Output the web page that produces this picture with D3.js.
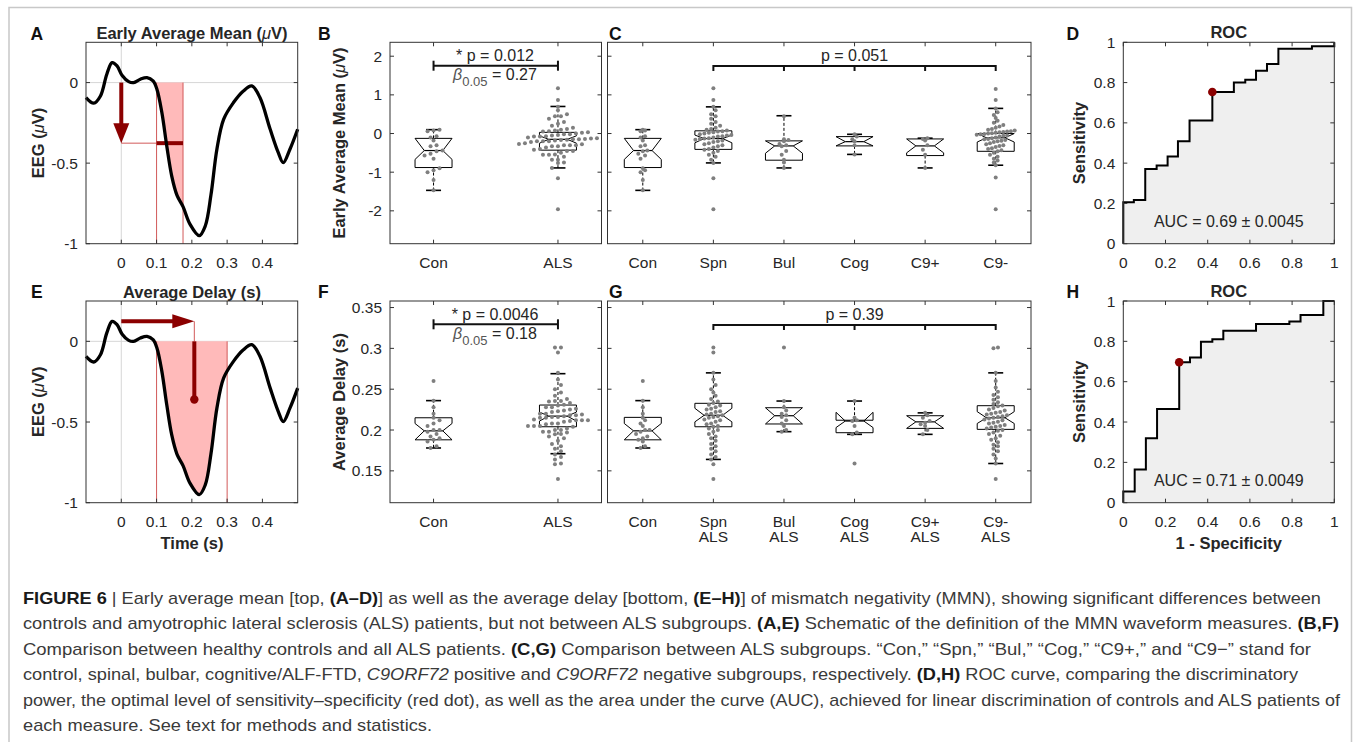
<!DOCTYPE html>
<html><head><meta charset="utf-8">
<script src="https://cdn.jsdelivr.net/npm/d3@7"></script>
<style>
body{margin:0;background:#fff}
svg{display:block}
text{font-family:"Liberation Sans",Arial,Helvetica,sans-serif;fill:#262626}
</style></head>
<body><svg id="fig" width="1355" height="742"></svg>
<script>
// ---------------- DATA ----------------
// Schematic MMN waveform (panels A, E)
const timeS = [-0.1,-0.078,-0.059,-0.041,-0.026,-0.012,0.002,0.021,0.035,0.054,0.073,0.09,0.101,0.115,0.129,0.143,0.158,0.175,0.195,0.221,0.238,0.254,0.271,0.29,0.318,0.346,0.37,0.393,0.422,0.445,0.459,0.478,0.5];
const eegUV = [-0.093,-0.128,-0.083,0.052,0.124,0.104,0.046,0.006,0.0,0.021,0.031,0.01,-0.041,-0.186,-0.395,-0.58,-0.7,-0.77,-0.88,-0.95,-0.89,-0.7,-0.414,-0.228,-0.124,-0.052,-0.021,-0.093,-0.29,-0.435,-0.497,-0.414,-0.29];
const earlyWindow = [0.1, 0.175];
const earlyMeanLevel = -0.376;
const delayWindow = [0.1, 0.3];
const avgDelayTime = 0.207;
const delayArrowLevel = 0.124;
const delayDotLevel = -0.36;

const waveXTicks = [0,0.1,0.2,0.3,0.4];
const waveXLabels = ["0","0.1","0.2","0.3","0.4"];
const waveYTicks = [-1,-0.5,0];
const waveYLabels = ["-1","-0.5","0"];

// Categories
const catsBF = [["Con"],["ALS"]];
const catsC = [["Con"],["Spn"],["Bul"],["Cog"],["C9+"],["C9-"]];
const catsG = [["Con"],["Spn","ALS"],["Bul","ALS"],["Cog","ALS"],["C9+","ALS"],["C9-","ALS"]];

// Early average mean (µV) individual values
const conEarly = [0.1,0.08,0.06,-0.07,-0.1,-0.18,-0.3,-0.33,-0.44,-0.46,-0.52,-0.57,-0.65,-0.9,-0.95,-1.0,-1.2,-1.47];
const spnEarly = [1.17,0.87,0.69,0.6,0.5,0.45,0.38,0.3,0.25,0.2,0.15,0.12,0.1,0.08,0.06,0.05,0.03,0.02,0.0,-0.02,-0.04,-0.05,-0.07,-0.08,-0.1,-0.12,-0.13,-0.14,-0.16,-0.18,-0.2,-0.22,-0.25,-0.28,-0.3,-0.33,-0.36,-0.4,-0.42,-0.45,-0.5,-0.55,-0.6,-0.68,-0.76,-1.16,-1.96];
const bulEarly = [0.45,-0.15,-0.17,-0.2,-0.27,-0.3,-0.33,-0.45,-0.55,-0.68,-0.75,-0.89];
const cogEarly = [-0.02,-0.08,-0.15,-0.2,-0.3,-0.54];
const c9pEarly = [-0.12,-0.14,-0.18,-0.3,-0.42,-0.55,-0.89];
const c9nEarly = [1.15,0.87,0.65,0.55,0.48,0.4,0.33,0.28,0.22,0.18,0.15,0.12,0.1,0.08,0.06,0.05,0.04,0.03,0.02,0.01,0.0,-0.01,-0.02,-0.03,-0.05,-0.06,-0.08,-0.1,-0.12,-0.14,-0.15,-0.17,-0.19,-0.2,-0.22,-0.25,-0.28,-0.3,-0.32,-0.35,-0.38,-0.4,-0.43,-0.46,-0.5,-0.55,-0.6,-0.65,-0.7,-0.75,-0.82,-1.14,-1.96];
const alsEarly = spnEarly.concat(bulEarly, cogEarly);

// Average delay (s) individual values
const conDelay = [0.26,0.236,0.228,0.22,0.215,0.212,0.208,0.205,0.2,0.2,0.198,0.195,0.192,0.19,0.188,0.186,0.18,0.178];
const spnDelay = [0.301,0.295,0.27,0.262,0.255,0.25,0.246,0.242,0.238,0.235,0.233,0.231,0.23,0.228,0.226,0.225,0.223,0.222,0.22,0.219,0.218,0.217,0.216,0.215,0.213,0.212,0.21,0.208,0.207,0.205,0.204,0.202,0.2,0.198,0.195,0.192,0.19,0.187,0.183,0.18,0.177,0.174,0.17,0.167,0.164,0.158,0.14];
const bulDelay = [0.301,0.2355,0.228,0.224,0.22,0.218,0.216,0.212,0.208,0.205,0.2,0.198];
const cogDelay = [0.2355,0.215,0.212,0.211,0.205,0.197,0.1947,0.159];
const c9pDelay = [0.221,0.218,0.215,0.211,0.209,0.207,0.205,0.2,0.1947];
const c9nDelay = [0.301,0.3,0.27,0.26,0.252,0.247,0.243,0.24,0.237,0.234,0.232,0.23,0.229,0.227,0.225,0.224,0.222,0.221,0.22,0.219,0.218,0.217,0.216,0.215,0.214,0.213,0.212,0.21,0.209,0.208,0.206,0.205,0.204,0.203,0.202,0.2,0.199,0.197,0.195,0.193,0.19,0.188,0.185,0.182,0.18,0.177,0.174,0.17,0.165,0.159,0.14];
const alsDelay = spnDelay.concat(bulDelay, cogDelay);

// Box statistics per category: [whiskerLo, q1, notchLo, median, notchHi, q3, whiskerHi]
const boxB = [[-1.47,-0.88,-0.67,-0.44,-0.125,-0.125,0.1],[-0.89,-0.43,-0.25,-0.15,-0.06,0.03,0.7]];
const boxC = [[-1.47,-0.88,-0.67,-0.44,-0.125,-0.125,0.1],[-0.76,-0.41,-0.24,-0.13,-0.04,0.07,0.69],[-0.89,-0.69,-0.51,-0.32,-0.19,-0.19,0.46],[-0.54,-0.32,-0.32,-0.21,-0.08,-0.08,-0.02],[-0.89,-0.57,-0.5,-0.32,-0.14,-0.14,-0.12],[-0.82,-0.46,-0.22,-0.11,0.0,0.0,0.65]];
const boxF = [[0.178,0.188,0.188,0.199,0.208,0.215,0.236],[0.171,0.204,0.211,0.217,0.222,0.2306,0.269]];
const boxG = [[0.178,0.188,0.188,0.199,0.208,0.2155,0.236],[0.164,0.204,0.21,0.218,0.2266,0.2327,0.27],[0.198,0.2074,0.2074,0.2175,0.2273,0.2273,0.2355],[0.1947,0.1967,0.203,0.211,0.2217,0.212,0.2355],[0.1947,0.202,0.202,0.21,0.2175,0.2175,0.221],[0.159,0.2008,0.208,0.215,0.2225,0.2298,0.27]];

const earlyYTicks = [-2,-1,0,1,2];
const earlyYLabels = ["-2","-1","0","1","2"];
const delayYTicks = [0.15,0.2,0.25,0.3,0.35];
const delayYLabels = ["0.15","0.2","0.25","0.3","0.35"];

// Stats annotations
const statB = {p:"* p = 0.012", beta:"0.27"};
const statC = "p = 0.051";
const statF = {p:"* p = 0.0046", beta:"0.18"};
const statG = "p = 0.39";

// ROC curves (corner points, step after)
const rocFprD = [0,0,0.05,0.104,0.158,0.21,0.259,0.314,0.422,0.524,0.578,0.629,0.681,0.735,0.894,1,1];
const rocTprD = [0,0.206,0.217,0.371,0.388,0.433,0.509,0.612,0.753,0.801,0.814,0.859,0.892,0.968,0.98,0.985,1];
const optD = [0.422,0.753];
const aucD = "AUC = 0.69 ± 0.0045";
const rocFprH = [0,0,0.054,0.107,0.16,0.265,0.316,0.368,0.422,0.474,0.629,0.787,0.84,0.948,1];
const rocTprH = [0,0.055,0.165,0.319,0.464,0.696,0.72,0.798,0.81,0.853,0.886,0.898,0.93,1,1];
const optH = [0.265,0.696];
const aucH = "AUC = 0.71 ± 0.0049";
const rocTicks = [0,0.2,0.4,0.6,0.8,1];
const rocLabels = ["0","0.2","0.4","0.6","0.8","1"];

const captionLines = [
 [["FIGURE 6","b"],[" | Early average mean [top, ",""],["(A–D)","b"],["] as well as the average delay [bottom, ",""],["(E–H)","b"],["] of mismatch negativity (MMN), showing significant differences between",""]],
 [["controls and amyotrophic lateral sclerosis (ALS) patients, but not between ALS subgroups. ",""],["(A,E)","b"],[" Schematic of the definition of the MMN waveform measures. ",""],["(B,F)","b"]],
 [["Comparison between healthy controls and all ALS patients. ",""],["(C,G)","b"],[" Comparison between ALS subgroups. “Con,” “Spn,” “Bul,” “Cog,” “C9+,” and “C9−” stand for",""]],
 [["control, spinal, bulbar, cognitive/ALF-FTD, ",""],["C9ORF72","i"],[" positive and ",""],["C9ORF72","i"],[" negative subgroups, respectively. ",""],["(D,H)","b"],[" ROC curve, comparing the discriminatory",""]],
 [["power, the optimal level of sensitivity–specificity (red dot), as well as the area under the curve (AUC), achieved for linear discrimination of controls and ALS patients of",""]],
 [["each measure. See text for methods and statistics.",""]]
];

// ---------------- DRAWING ----------------
const svg = d3.select("#fig");
const AX = "#333";
const DARKRED = "#8b0000";

svg.append("path").attr("d","M9,760 V7.5 H1351.5 V760").attr("fill","none").attr("stroke","#c8c8c8").attr("stroke-width",1.5);

const ROW1 = {y0:42.3, y1:243.7}, ROW2 = {y0:301, y1:502.7};

function addText(g, x, y, s, o={}) {
  const t = g.append("text").attr("x",x).attr("y",y).text(s)
    .attr("font-size", o.size||15.5).attr("text-anchor", o.anchor||"middle");
  if (o.bold) t.attr("font-weight","bold");
  return t;
}
function frame(g, x0, x1, y0, y1) {
  g.append("rect").attr("x",x0).attr("y",y0).attr("width",x1-x0).attr("height",y1-y0)
    .attr("fill","none").attr("stroke",AX).attr("stroke-width",1);
}
function yTicks(g, y, vals, labels, x0, x1) {
  vals.forEach((v,i)=>{
    const py = y(v);
    g.append("line").attr("x1",x0).attr("x2",x0+4).attr("y1",py).attr("y2",py).attr("stroke",AX);
    g.append("line").attr("x1",x1).attr("x2",x1-4).attr("y1",py).attr("y2",py).attr("stroke",AX);
    addText(g, x0-8, py+5.5, labels[i], {anchor:"end"});
  });
}
function xTicks(g, x, vals, labels, y0, y1) {
  vals.forEach((v,i)=>{
    const px = x(v);
    g.append("line").attr("x1",px).attr("x2",px).attr("y1",y1).attr("y2",y1-4).attr("stroke",AX);
    g.append("line").attr("x1",px).attr("x2",px).attr("y1",y0).attr("y2",y0+4).attr("stroke",AX);
    const lab = Array.isArray(labels[i]) ? labels[i] : [labels[i]];
    lab.forEach((l,j)=> addText(g, px, y1+24+j*15.5, l));
  });
}
function ylabel(g, x, y, parts) {
  const t = g.append("text").attr("transform",`translate(${x},${y}) rotate(-90)`)
    .attr("text-anchor","middle").attr("font-size",16.5).attr("font-weight","bold");
  parts.forEach(p=>{ const s=t.append("tspan").text(p[0]); if(p[1]==="i") s.attr("font-style","italic").attr("font-weight","normal"); });
}
function richTitle(g, x, y, parts, size=16.5) {
  const t = g.append("text").attr("x",x).attr("y",y).attr("text-anchor","middle").attr("font-size",size).attr("font-weight","bold");
  parts.forEach(p=>{ const s=t.append("tspan").text(p[0]); if(p[1]==="i") s.attr("font-style","italic").attr("font-weight","normal"); });
}
function letter(g, x, y, s) { addText(g, x, y, s, {anchor:"start", bold:true, size:17.5}).style("fill","#111"); }

// ---- Waveform panels ----
const wavePts = timeS.map((t,i)=>[t, eegUV[i]]);
const waveCurve = d3.curveCatmullRom.alpha(0.5);
function wavePanel(row, id, mode) {
  const x = d3.scaleLinear([-0.1,0.5],[86,297.7]);
  const y = d3.scaleLinear([-1,0.25],[row.y1,row.y0]);
  const g = svg.append("g");
  g.append("line").attr("x1",x(0)).attr("x2",x(0)).attr("y1",row.y0).attr("y2",row.y1).attr("stroke","#d6d6d6");
  g.append("line").attr("x1",x.range()[0]).attr("x2",x.range()[1]).attr("y1",y(0)).attr("y2",y(0)).attr("stroke","#d6d6d6");
  const win = mode==="early" ? earlyWindow : delayWindow;
  svg.append("clipPath").attr("id","clip"+id).append("rect")
    .attr("x",x(win[0])).attr("y",row.y0).attr("width",x(win[1])-x(win[0])).attr("height",row.y1-row.y0);
  const area = d3.area().x(d=>x(d[0])).y0(y(0)).y1(d=>y(d[1])).curve(waveCurve);
  g.append("path").datum(wavePts).attr("d",area).attr("fill","#ffbaba").attr("clip-path",`url(#clip${id})`);
  win.forEach(w=> g.append("line").attr("x1",x(w)).attr("x2",x(w)).attr("y1",y(0)).attr("y2",row.y1).attr("stroke","#d25a5a").attr("stroke-width",1));
  if (mode==="early") {
    g.append("line").attr("x1",x(0)).attr("x2",x(win[1])).attr("y1",y(earlyMeanLevel)).attr("y2",y(earlyMeanLevel)).attr("stroke","#d25a5a").attr("stroke-width",1);
    g.append("line").attr("x1",x(win[0])).attr("x2",x(win[1])).attr("y1",y(earlyMeanLevel)).attr("y2",y(earlyMeanLevel)).attr("stroke",DARKRED).attr("stroke-width",4);
    const tipY = y(earlyMeanLevel), cx = x(0);
    g.append("line").attr("x1",cx).attr("x2",cx).attr("y1",y(0)).attr("y2",tipY-18).attr("stroke",DARKRED).attr("stroke-width",4);
    g.append("polygon").attr("points",`${cx},${tipY} ${cx-8},${tipY-20} ${cx+8},${tipY-20}`).attr("fill",DARKRED);
  } else {
    const ty = y(delayArrowLevel), tipX = x(avgDelayTime);
    g.append("line").attr("x1",tipX).attr("x2",tipX).attr("y1",ty).attr("y2",y(0)).attr("stroke","#d25a5a").attr("stroke-width",1);
    g.append("line").attr("x1",x(0)).attr("x2",tipX-19).attr("y1",ty).attr("y2",ty).attr("stroke",DARKRED).attr("stroke-width",4);
    g.append("polygon").attr("points",`${tipX},${ty} ${tipX-22},${ty-7} ${tipX-22},${ty+7}`).attr("fill",DARKRED);
    g.append("line").attr("x1",tipX).attr("x2",tipX).attr("y1",y(0)).attr("y2",y(delayDotLevel)).attr("stroke",DARKRED).attr("stroke-width",4);
    g.append("circle").attr("cx",tipX).attr("cy",y(delayDotLevel)).attr("r",4.2).attr("fill",DARKRED);
  }
  g.append("path").datum(wavePts).attr("d",d3.line().x(d=>x(d[0])).y(d=>y(d[1])).curve(waveCurve))
    .attr("fill","none").attr("stroke","#000").attr("stroke-width",3.3).attr("stroke-linejoin","round");
  frame(g, 86, 297.7, row.y0, row.y1);
  yTicks(g, y, waveYTicks, waveYLabels, 86, 297.7);
  xTicks(g, x, waveXTicks, waveXLabels, row.y0, row.y1);
  ylabel(g, 44, (row.y0+row.y1)/2, [["EEG ("],["μ","i"],["V)"]]);
  return g;
}
const gA = wavePanel(ROW1, "A", "early");
richTitle(gA, 192, 38.5, [["Early Average Mean ("],["μ","i"],["V)"]]);
letter(gA, 30.5, 39.5, "A");
const gE = wavePanel(ROW2, "E", "delay");
richTitle(gE, 192, 298, [["Average Delay (s)"]]);
addText(gE, 192, 549, "Time (s)", {bold:true, size:16.5});
letter(gE, 31, 297.5, "E");

// ---- Box panels ----
function spread(values, y, maxHalf, gap, binPx) {
  const pts = values.map(v=>({v, py:y(v)}));
  const bins = d3.group(pts, p=>Math.floor(p.py/binPx));
  const maxN = d3.max(Array.from(bins.values()), b=>b.length);
  const dx = maxN>1 ? Math.min(gap, 2*maxHalf/(maxN-1)) : gap;
  bins.forEach(b=>{ b.sort((a,c)=>a.v-c.v); b.forEach((p,i)=> p.dx=(i-(b.length-1)/2)*dx); });
  return pts;
}
function boxPanel(o) {
  const g = svg.append("g");
  const x = d3.scaleLinear(o.xDomain,[o.x0,o.x1]);
  const y = d3.scaleLinear(o.yDomain,[o.row.y1,o.row.y0]);
  const w = 18.5, cap = 7.5;
  o.stats.forEach((s,i)=>{
    const [wLo,q1,nLo,med,nHi,q3,wHi] = s; const cx = x(i+1);
    g.append("line").attr("x1",cx).attr("x2",cx).attr("y1",y(q3)).attr("y2",y(wHi)).attr("stroke","#000").attr("stroke-dasharray","3,2");
    g.append("line").attr("x1",cx).attr("x2",cx).attr("y1",y(q1)).attr("y2",y(wLo)).attr("stroke","#000").attr("stroke-dasharray","3,2");
    [wHi,wLo].forEach(v=> g.append("line").attr("x1",cx-cap).attr("x2",cx+cap).attr("y1",y(v)).attr("y2",y(v)).attr("stroke","#000").attr("stroke-width",1.6));
    const pts = [[cx-w,q1],[cx-w,nLo],[cx-w/2,med],[cx-w,nHi],[cx-w,q3],[cx+w,q3],[cx+w,nHi],[cx+w/2,med],[cx+w,nLo],[cx+w,q1]];
    g.append("polygon").attr("points",pts.map(p=>`${p[0]},${y(p[1])}`).join(" ")).attr("fill","none").attr("stroke","#000").attr("stroke-width",1);
    g.append("line").attr("x1",cx-w/2).attr("x2",cx+w/2).attr("y1",y(med)).attr("y2",y(med)).attr("stroke","#000").attr("stroke-width",1.2);
  });
  o.groups.forEach((vals,i)=>{
    const cx = x(i+1);
    spread(vals, y, o.half, o.gap, o.bin).forEach(p=>{
      g.append("circle").attr("cx",cx+p.dx).attr("cy",p.py).attr("r",2).attr("fill","#7f7f7f");
    });
  });
  frame(g, o.x0, o.x1, o.row.y0, o.row.y1);
  yTicks(g, y, o.yTicks, o.showYLabels ? o.yLabels : o.yTicks.map(()=>""), o.x0, o.x1);
  xTicks(g, x, d3.range(1,o.cats.length+1), o.cats, o.row.y0, o.row.y1);
  return {g, x, y};
}
function pairBracket(g, x1, x2, yb, pText, beta, cx) {
  g.append("line").attr("x1",x1).attr("x2",x2).attr("y1",yb).attr("y2",yb).attr("stroke","#111").attr("stroke-width",2);
  [x1,x2].forEach(xx=> g.append("line").attr("x1",xx).attr("x2",xx).attr("y1",yb-5).attr("y2",yb+5).attr("stroke","#111").attr("stroke-width",2));
  addText(g, cx, yb-4.5, pText, {size:16});
  const t = g.append("text").attr("x",cx).attr("y",yb+14.5).attr("text-anchor","middle").attr("font-size",16);
  t.append("tspan").text("β").attr("font-style","italic").style("fill","#555");
  t.append("tspan").text("0.05").attr("font-size",13).attr("dy",6).style("fill","#555");
  t.append("tspan").text(" = "+beta).attr("dy",-6);
}
function groupBracket(g, xs, yb, pText) {
  g.append("line").attr("x1",xs[0]).attr("x2",xs[xs.length-1]).attr("y1",yb).attr("y2",yb).attr("stroke","#111").attr("stroke-width",2);
  xs.forEach(xx=> g.append("line").attr("x1",xx).attr("x2",xx).attr("y1",yb-1).attr("y2",yb+5).attr("stroke","#111").attr("stroke-width",2));
  addText(g, (xs[0]+xs[xs.length-1])/2, yb-5, pText, {size:16});
}

const earlyDom = [-2.85, 2.36], delayDom = [0.111, 0.358];
const pB = boxPanel({x0:390, x1:601.5, row:ROW1, xDomain:[0.65,2.35], yDomain:earlyDom, stats:boxB, groups:[conEarly, alsEarly], cats:catsBF, yTicks:earlyYTicks, yLabels:earlyYLabels, showYLabels:true, half:44, gap:6, bin:6});
pairBracket(pB.g, pB.x(1), pB.x(2), 65.7, statB.p, statB.beta, 495);
ylabel(pB.g, 345, 143, [["Early Average Mean ("],["μ","i"],["V)"]]);
letter(pB.g, 318, 39.5, "B");

const pC = boxPanel({x0:607.5, x1:1031, row:ROW1, xDomain:[0.5,6.5], yDomain:earlyDom, stats:boxC, groups:[conEarly, spnEarly, bulEarly, cogEarly, c9pEarly, c9nEarly], cats:catsC, yTicks:earlyYTicks, yLabels:earlyYLabels, showYLabels:false, half:19, gap:4.5, bin:5});
groupBracket(pC.g, [2,3,4,5,6].map(pC.x), 66, statC);
letter(pC.g, 609, 39.5, "C");

const pF = boxPanel({x0:390, x1:601.5, row:ROW2, xDomain:[0.65,2.35], yDomain:delayDom, stats:boxF, groups:[conDelay, alsDelay], cats:catsBF, yTicks:delayYTicks, yLabels:delayYLabels, showYLabels:true, half:42, gap:6, bin:6});
pairBracket(pF.g, pF.x(1), pF.x(2), 324.3, statF.p, statF.beta, 495);
ylabel(pF.g, 345, 402, [["Average Delay (s)"]]);
letter(pF.g, 318, 297.5, "F");

const pG = boxPanel({x0:607.5, x1:1031, row:ROW2, xDomain:[0.5,6.5], yDomain:delayDom, stats:boxG, groups:[conDelay, spnDelay, bulDelay, cogDelay, c9pDelay, c9nDelay], cats:catsG, yTicks:delayYTicks, yLabels:delayYLabels, showYLabels:false, half:19, gap:4.5, bin:5});
groupBracket(pG.g, [2,3,4,5,6].map(pG.x), 325, statG);
letter(pG.g, 609, 297.5, "G");

// ---- ROC panels ----
function rocPanel(row, fpr, tpr, opt, auc) {
  const g = svg.append("g");
  const x = d3.scaleLinear([0,1],[1123.3,1334.3]);
  const y = d3.scaleLinear([0,1],[row.y1,row.y0]);
  const pts = fpr.map((f,i)=>[f,tpr[i]]);
  g.append("path").datum(pts).attr("d", d3.area().x(d=>x(d[0])).y0(y(0)).y1(d=>y(d[1])).curve(d3.curveStepAfter)).attr("fill","#efefef");
  g.append("path").datum(pts).attr("d", d3.line().x(d=>x(d[0])).y(d=>y(d[1])).curve(d3.curveStepAfter))
    .attr("fill","none").attr("stroke","#000").attr("stroke-width",2);
  g.append("circle").attr("cx",x(opt[0])).attr("cy",y(opt[1])).attr("r",4.3).attr("fill",DARKRED);
  addText(g, x(0.5), y(0.083), auc, {size:16});
  frame(g, 1123.3, 1334.3, row.y0, row.y1);
  yTicks(g, y, rocTicks, rocLabels, 1123.3, 1334.3);
  xTicks(g, x, rocTicks, rocLabels, row.y0, row.y1);
  ylabel(g, 1085, (row.y0+row.y1)/2, [["Sensitivity"]]);
  addText(g, x(0.5), row.y0-4, "ROC", {bold:true, size:16.5});
  return {g, x};
}
const rD = rocPanel(ROW1, rocFprD, rocTprD, optD, aucD);
letter(rD.g, 1066.5, 39.5, "D");
const rH = rocPanel(ROW2, rocFprH, rocTprH, optH, aucH);
letter(rH.g, 1066.5, 297.5, "H");
addText(rH.g, rH.x(0.5), 549, "1 - Specificity", {bold:true, size:16.5});

// ---- Caption ----
const capEnds = [1321,1339,1311,1298,1340];
const capG = svg.append("g");
const capNodes = captionLines.map((line,i)=>{
  const t = capG.append("text").attr("x",23).attr("y",604+i*25.4).attr("font-size",17)
    .attr("text-anchor","start")
    .style("font-family",'"Liberation Sans Narrow","Liberation Sans",Arial,sans-serif').style("fill","#3a3a3a");
  line.forEach(seg=>{
    const s = t.append("tspan").text(seg[0]);
    if (seg[1]==="b") s.attr("font-weight","bold").style("fill","#1a1a1a");
    if (seg[1]==="i") s.attr("font-style","italic");
  });
  return t;
});
const ratios = capEnds.map((e,i)=> (e-23)/capNodes[i].node().getComputedTextLength());
const meanRatio = d3.mean(ratios);
capNodes.forEach((t,i)=>{
  const target = i < capEnds.length ? capEnds[i]-23 : t.node().getComputedTextLength()*meanRatio;
  t.attr("textLength", target).attr("lengthAdjust","spacingAndGlyphs");
});
</script></body></html>
